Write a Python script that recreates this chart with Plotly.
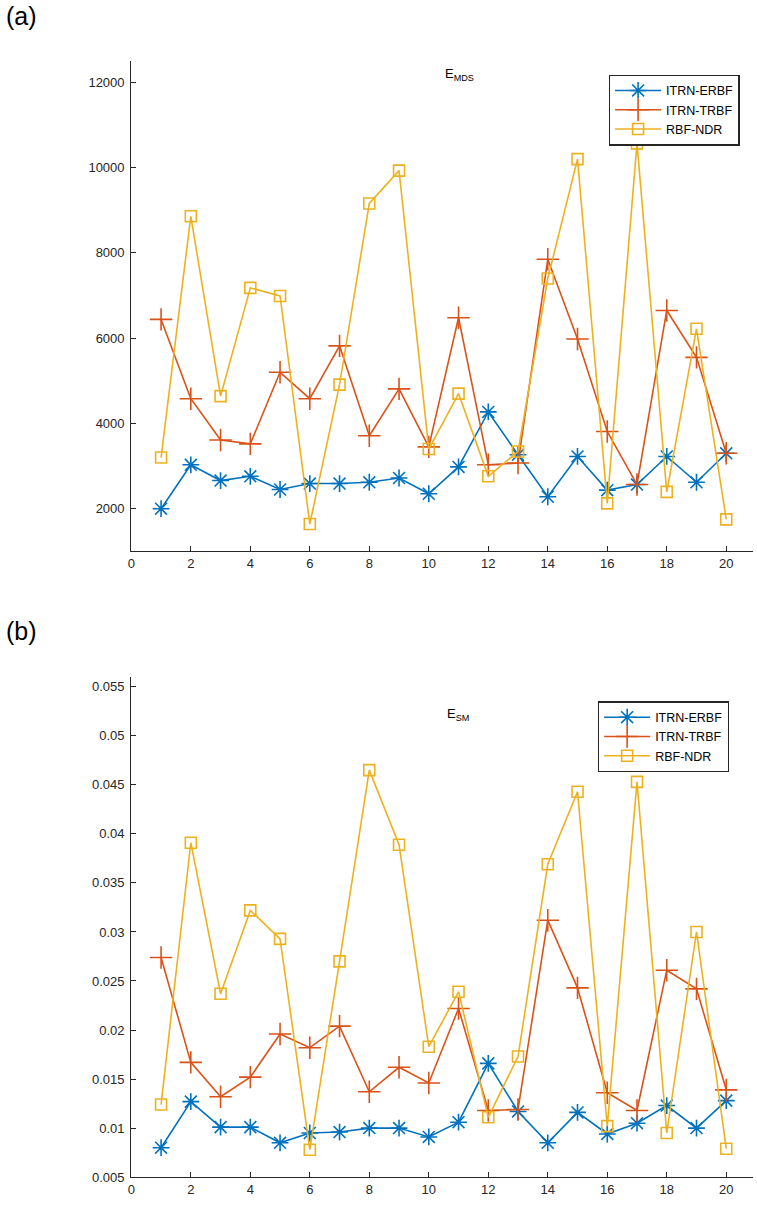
import plotly.graph_objects as go

x = list(range(1, 21))

# Panel (a): E_MDS
mds_erbf = [2000, 3030, 2660, 2760, 2450, 2590, 2590, 2620, 2720, 2350,
            2980, 4270, 3265, 2280, 3225, 2435, 2567, 3225, 2620, 3300]
mds_trbf = [6440, 4580, 3610, 3520, 5200, 4580, 5820, 3710, 4810, 3450,
            6480, 3030, 3070, 7850, 5980, 3810, 2567, 6650, 5550, 3300]
mds_ndr = [3200, 8860, 4640, 7180, 6990, 1640, 4910, 9160, 9930, 3400,
           4700, 2760, 3340, 7400, 10200, 2125, 10570, 2395, 6220, 1750]

# Panel (b): E_SM
sm_erbf = [0.0080, 0.0127, 0.0101, 0.0101, 0.0085, 0.0095, 0.0096, 0.0100, 0.0100, 0.0091,
           0.0106, 0.0166, 0.0117, 0.0085, 0.0116, 0.0094, 0.0105, 0.0123, 0.0100, 0.0128]
sm_trbf = [0.0274, 0.0167, 0.0132, 0.0152, 0.0196, 0.0182, 0.0204, 0.0137, 0.0162, 0.0146,
           0.0222, 0.0118, 0.0119, 0.0312, 0.0243, 0.0136, 0.0118, 0.0261, 0.0242, 0.0139]
sm_ndr = [0.0124, 0.0391, 0.0237, 0.0322, 0.0293, 0.0078, 0.0270, 0.0465, 0.0389, 0.0183,
          0.0239, 0.0111, 0.0173, 0.0369, 0.0443, 0.0102, 0.0453, 0.0095, 0.0300, 0.0079]

x_ticks = list(range(0, 21, 2))
mds_ticks = [2000, 4000, 6000, 8000, 10000, 12000]
sm_ticks = [0.005, 0.01, 0.015, 0.02, 0.025, 0.03, 0.035, 0.04, 0.045, 0.05, 0.055]
sm_ticktext = ["0.005", "0.01", "0.015", "0.02", "0.025", "0.03", "0.035", "0.04",
               "0.045", "0.05", "0.055"]

names = ["ITRN-ERBF", "ITRN-TRBF", "RBF-NDR"]
colors = ["#0072BD", "#D95319", "#EDB120"]
symbols = ["asterisk-open", "cross-thin-open", "square-open"]
sizes = [14, 16, 11]

W, H = 757, 1205
FONT = "Liberation Sans, Arial, Helvetica"
fig = go.Figure()

def add_series(ys, xa, ya, leg):
    for i, yv in enumerate(ys):
        fig.add_trace(go.Scatter(
            x=x, y=yv, mode="lines+markers", name=names[i],
            line=dict(color=colors[i], width=1.6),
            marker=dict(symbol=symbols[i], size=sizes[i],
                        line=dict(color=colors[i], width=1.6)),
            xaxis=xa, yaxis=ya, legend=leg))

add_series([mds_erbf, mds_trbf, mds_ndr], "x", "y", "legend")
add_series([sm_erbf, sm_trbf, sm_ndr], "x2", "y2", "legend2")

axcol = "#262626"
tickfont = dict(family=FONT, size=13, color=axcol)
xdom = [128 / W, 753 / W]
common = dict(showline=True, linecolor=axcol, linewidth=1.3, ticks="inside",
              ticklen=5, tickcolor=axcol, tickwidth=1.3, showgrid=False,
              zeroline=False, tickfont=tickfont, mirror=False)

legfont = dict(family=FONT, size=12.5, color="black")

fig.update_layout(
    width=W, height=H, paper_bgcolor="white", plot_bgcolor="white",
    margin=dict(l=0, r=0, t=0, b=0),
    xaxis=dict(domain=xdom, anchor="y", range=[0, 20.9], tickvals=x_ticks, **common),
    yaxis=dict(domain=[1 - 555 / H, 1 - 61.5 / H], anchor="x", range=[1000, 12500],
               tickvals=mds_ticks, ticktext=[str(v) for v in mds_ticks],
               ticklabelstandoff=3, **common),
    xaxis2=dict(domain=xdom, anchor="y2", range=[0, 20.9], tickvals=x_ticks, **common),
    yaxis2=dict(domain=[1 - 1185 / H, 1 - 681.5 / H], anchor="x2", range=[0.005, 0.056],
                tickvals=sm_ticks, ticktext=sm_ticktext, ticklabelstandoff=3, **common),
    legend=dict(x=608 / W, y=1 - 75 / H, xanchor="left", yanchor="top",
                bgcolor="white", bordercolor=axcol, borderwidth=1.3,
                font=legfont, tracegroupgap=0, itemwidth=46),
    legend2=dict(x=597 / W, y=1 - 706 / H, xanchor="left", yanchor="top",
                 bgcolor="white", bordercolor=axcol, borderwidth=1.3,
                 font=legfont, tracegroupgap=0, itemwidth=46),
    showlegend=True,
)

fig.add_annotation(text="E<sub>MDS</sub>", xref="paper", yref="paper", x=458 / W, y=1 - 75 / H,
                   xanchor="center", yanchor="middle",
                   showarrow=False, font=dict(family=FONT, size=13, color="black"))
fig.add_annotation(text="E<sub>SM</sub>", xref="paper", yref="paper", x=456 / W, y=1 - 719 / H,
                   xanchor="center", yanchor="middle",
                   showarrow=False, font=dict(family=FONT, size=13, color="black"))
fig.add_annotation(text="(a)", xref="paper", yref="paper", x=0, y=1 - 16 / H,
                   xanchor="left", yanchor="middle",
                   showarrow=False, font=dict(family=FONT, size=25, color="black"))
fig.add_annotation(text="(b)", xref="paper", yref="paper", x=0, y=1 - 635 / H,
                   xanchor="left", yanchor="middle",
                   showarrow=False, font=dict(family=FONT, size=25, color="black"))

fig.write_html("out.html")
